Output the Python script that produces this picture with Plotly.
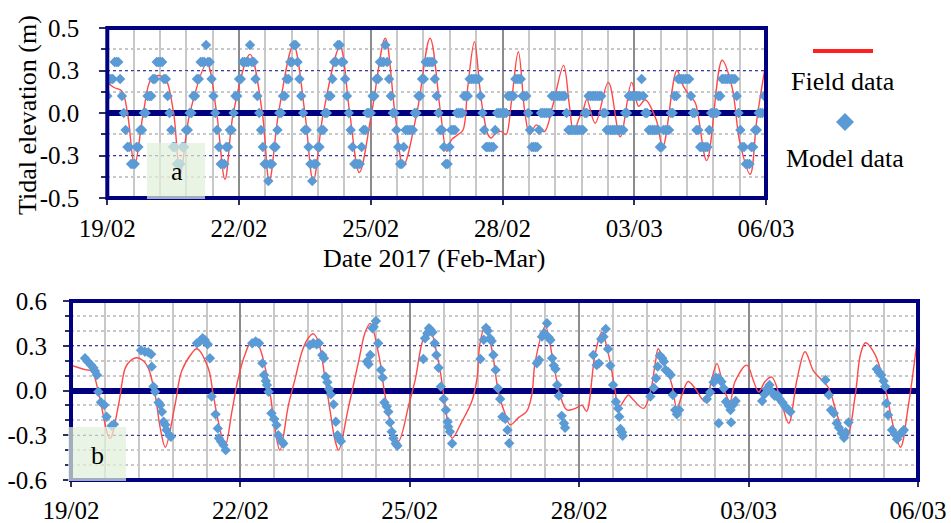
import plotly.graph_objects as go
import pandas as pd

W, H = 951, 523
START = pd.Timestamp("2017-02-19")

# ---------------- DATA ----------------
# Panel a: field data (red line), time in days since 19/02 00:00, elevation (m)
field_a_days = [0.00, 0.15, 0.33, 0.46, 0.62, 0.82, 1.00, 1.20, 1.33, 1.51, 1.66, 1.88,
                2.27, 2.49, 2.68, 2.87, 3.25, 3.53, 3.69, 3.90, 4.24, 4.50, 4.69, 4.92,
                5.30, 5.52, 5.74, 6.02, 6.33, 6.55, 6.74, 7.05, 7.35, 7.59, 7.73, 7.84,
                7.99, 8.10, 8.21, 8.36, 8.48, 8.56, 8.67, 8.74, 8.85, 8.97, 9.08, 9.20,
                9.36, 9.51, 9.62, 9.77, 9.95, 10.15, 10.39, 10.52, 10.62, 10.73, 10.85,
                10.92, 11.11, 11.41, 11.68, 11.94, 12.10, 12.25, 12.50, 12.65, 12.97,
                13.12, 13.27, 13.39, 13.65, 14.00, 14.22, 14.41, 14.64, 14.79, 15.00]
field_a_m = [0.18, 0.15, 0.13, 0.0, -0.31, 0.0, 0.20, 0.22, 0.20, 0.0, -0.36, 0.0,
             0.29, 0.0, -0.39, 0.0, 0.345, 0.0, -0.40, 0.0, 0.40, 0.0, -0.40, 0.0,
             0.39, 0.0, -0.35, 0.0, 0.44, 0.0, -0.31, 0.0, 0.44, 0.0, -0.225, -0.157,
             -0.127, -0.10, 0.157, 0.42, 0.157, 0.0, -0.127, -0.147, -0.118, -0.108, -0.127, 0.06,
             0.36, 0.0, -0.127, -0.07, -0.11, 0.05, 0.28, 0.05, -0.12, -0.04, 0.03,
             0.08, -0.06, 0.18, -0.14, 0.18, 0.04, 0.078, -0.04, -0.20, 0.25,
             0.157, 0.10, 0.06, -0.28, 0.31, 0.16, -0.18, -0.36, -0.04, 0.30]

# Panel a: model data, hourly from 19/02 00:00, in tenths of a metre
model_a_tenths = [
    1, 2, 2, 2, 3, 3, 3, 2, 1, 0, -1, -2,
    -2, -3, -3, -3, -2, -2, -1, -1, 0, 0, 1, 1,
    1, 2, 2, 3, 3, 3, 3, 2, 2, 1, 0, -1,
    -2, -2, -3, -3, -3, -2, -2, -1, -1, 0, 0, 1,
    1, 2, 2, 3, 3, 3, 4, 3, 3, 2, 1, 0,
    -1, -2, -3, -3, -3, -2, -2, -1, -1, 0, 1, 1,
    2, 2, 3, 3, 3, 3, 4, 3, 3, 2, 1, 0,
    -1, -2, -3, -3, -4, -3, -3, -2, -2, -1, 0, 0,
    1, 1, 2, 2, 3, 3, 4, 4, 3, 2, 1, 0,
    -1, -1, -2, -3, -4, -3, -3, -2, -2, -1, -1, 0,
    0, 1, 1, 2, 3, 3, 4, 4, 3, 3, 2, 1,
    0, -1, -2, -3, -3, -3, -3, -2, -1, -1, 0, 0,
    0, 1, 1, 2, 2, 3, 3, 3, 4, 3, 2, 1,
    0, 0, -1, -2, -3, -3, -2, -1, -1, -1, -1, -1,
    0, 0, 1, 1, 2, 2, 3, 3, 3, 3, 3, 2,
    1, 0, -1, -1, -2, -3, -3, -2, -1, -1, -1, 0,
    0, 0, 0, 1, 1, 1, 2, 2, 2, 2, 2, 2,
    1, 0, -1, -2, -2, -2, -2, -2, -1, 0, 0, 0,
    0, 0, 0, 1, 1, 1, 1, 2, 2, 2, 2, 1,
    1, 1, 0, -1, -2, -2, -2, -2, -1, 0, 0, 0,
    0, 0, 0, 1, 1, 1, 1, 1, 1, 1, 1, 0,
    -1, -1, -1, -1, -1, -1, -1, -1, -1, 0, 0, 1,
    1, 1, 1, 1, 1, 1, 1, 0, 0, -1, -1, -1,
    -1, -1, -1, -1, -1, -1, -1, 0, 0, 1, 1, 1,
    1, 1, 1, 1, 2, 1, 0, 0, -1, -1, -1, -1,
    -1, -1, -2, -2, -1, -1, -1, -1, 0, 0, 1, 1,
    2, 2, 2, 2, 2, 2, 2, 1, 0, 0, -1, -1,
    -2, -2, -2, -2, -2, -1, 0, 0, 0, 0, 1, 1,
    2, 2, 2, 2, 2, 2, 2, 2, 1, 0, -1, -2,
    -2, -3, -3, -3, -2, -2, -1, -1, 0, 0, 0, 1,
    1,
]

# Panel b: field data (red line)
field_b_days = [0.00, 0.25, 0.37, 0.48, 0.69, 0.84, 0.96, 1.05, 1.16, 1.28, 1.37, 1.49,
                1.58, 1.67, 1.84, 1.96, 2.14, 2.23, 2.43, 2.52, 2.61, 2.73, 2.85, 2.96,
                3.08, 3.20, 3.32, 3.44, 3.53, 3.61, 3.70, 3.85, 3.97, 4.09, 4.20, 4.29,
                4.38, 4.50, 4.59, 4.68, 4.74, 4.91, 5.09, 5.21, 5.30, 5.45, 5.56, 5.68,
                5.80, 5.98, 6.10, 6.21, 6.33, 6.51, 6.60, 6.69, 6.75, 6.92, 7.10, 7.19,
                7.24, 7.33, 7.45, 7.57, 7.69, 7.78, 7.93, 8.07, 8.16, 8.22, 8.40, 8.54,
                8.66, 8.78, 8.93, 9.05, 9.13, 9.28, 9.40, 9.52, 9.64, 9.69, 9.87, 9.93,
                10.14, 10.26, 10.35, 10.40, 10.52, 10.64, 10.73, 10.82, 10.93, 11.05,
                11.23, 11.35, 11.44, 11.56, 11.67, 11.76, 11.97, 12.09, 12.18, 12.29,
                12.41, 12.56, 12.71, 12.86, 13.00, 13.15, 13.30, 13.42, 13.59, 13.74,
                13.89, 13.98, 14.07, 14.24, 14.42, 14.57, 14.69, 14.83, 14.98]
field_b_m = [0.17, 0.14, 0.13, 0.0, -0.32, -0.10, 0.15, 0.20, 0.22, 0.20, 0.15, -0.03,
             -0.25, -0.38, -0.10, 0.13, 0.25, 0.28, 0.15, -0.03, -0.21, -0.37, -0.14, 0.08,
             0.24, 0.33, 0.30, 0.15, -0.03, -0.25, -0.40, -0.10, 0.08, 0.26, 0.35, 0.38,
             0.33, 0.08, -0.14, -0.34, -0.40, -0.12, 0.19, 0.39, 0.45, 0.24, -0.03, -0.25,
             -0.34, -0.10, 0.08, 0.31, 0.44, 0.19, -0.03, -0.25, -0.32, -0.21, -0.07, 0.08,
             0.31, 0.43, 0.28, -0.01, -0.16, -0.23, -0.18, -0.14, -0.03, 0.19, 0.43, 0.19,
             -0.03, -0.13, -0.12, -0.10, -0.14, 0.24, 0.39, 0.24, -0.01, -0.12, -0.03, -0.05,
             -0.12, -0.01, 0.19, 0.28, 0.17, 0.04, -0.12, -0.03, 0.06, 0.015,
             -0.075, 0.08, 0.18, 0.015, -0.075, 0.06, 0.17, 0.06, -0.01, 0.06,
             0.09, -0.05, -0.22, 0.08, 0.26, 0.13, 0.07, 0.015, -0.19, -0.31,
             -0.03, 0.24, 0.32, 0.24, 0.015, -0.25, -0.38, -0.10, 0.32]

# Panel b: model data
model_b_days = [0.248, 0.295, 0.354, 0.396, 0.425, 0.46, 0.484, 0.53, 0.59, 0.63, 0.72, 0.76,
                1.24, 1.31, 1.37, 1.42, 1.43, 1.46, 1.49, 1.55, 1.58, 1.61, 1.64, 1.67, 1.69, 1.74, 1.77,
                2.23, 2.29, 2.33, 2.37, 2.42, 2.46, 2.49, 2.56, 2.60, 2.62, 2.66, 2.70, 2.74,
                3.21, 3.27, 3.33, 3.39, 3.42, 3.45, 3.47, 3.50, 3.55, 3.60, 3.64, 3.67, 3.73, 3.76,
                4.23, 4.29, 4.35, 4.39, 4.45, 4.48, 4.51, 4.54, 4.57, 4.60, 4.65, 4.69, 4.72, 4.75, 4.78,
                5.24, 5.27, 5.30, 5.34, 5.36, 5.40, 5.44, 5.49, 5.52, 5.55, 5.59, 5.62, 5.65, 5.68, 5.71, 5.75, 5.78,
                6.24, 6.27, 6.31, 6.34, 6.37, 6.40, 6.44, 6.47, 6.51, 6.55, 6.60, 6.64, 6.67, 6.68, 6.71, 6.75,
                7.25, 7.31, 7.35, 7.38, 7.42, 7.45, 7.48, 7.52, 7.56, 7.60, 7.64, 7.69, 7.73, 7.76,
                8.25, 8.29, 8.34, 8.38, 8.43, 8.46, 8.49, 8.52, 8.55, 8.58, 8.61, 8.64, 8.69, 8.73, 8.75,
                9.25, 9.31, 9.35, 9.39, 9.43, 9.47, 9.51, 9.55, 9.60, 9.65, 9.69, 9.71, 9.73, 9.76, 9.77,
                10.26, 10.32, 10.36, 10.39, 10.43, 10.47, 10.50, 10.53, 10.58, 10.62, 10.66, 10.70, 10.73, 10.77,
                11.26, 11.32, 11.38, 11.42, 11.47, 11.47, 11.52, 11.56, 11.60, 11.65, 11.68, 11.69, 11.72, 11.77,
                12.24, 12.28, 12.32, 12.37, 12.41, 12.46, 12.51, 12.55, 12.60, 12.65, 12.69, 12.74,
                13.36, 13.42, 13.46, 13.51, 13.56, 13.60, 13.65, 13.69, 13.72, 13.77,
                14.27, 14.31, 14.35, 14.39, 14.42, 14.44, 14.47, 14.54, 14.59, 14.63, 14.67, 14.72, 14.75]
model_b_m = [0.216, 0.194, 0.171, 0.153, 0.131, 0.104, -0.008, -0.079, -0.097, -0.176, -0.236, -0.227,
             0.27, 0.26, 0.256, 0.243, 0.16, 0.026, -0.008, -0.08, -0.097, -0.142, -0.21, -0.23, -0.265, -0.30, -0.31,
             0.317, 0.332, 0.35, 0.339, 0.31, 0.216, -0.041, -0.16, -0.254, -0.32, -0.343, -0.366, -0.40,
             0.317, 0.328, 0.317, 0.182, 0.104, 0.064, 0.037, -0.008, -0.153, -0.191, -0.232, -0.30, -0.34, -0.355,
             0.305, 0.317, 0.31, 0.317, 0.238, 0.216, 0.093, 0.055, 0.01, -0.026, -0.093, -0.21, -0.30, -0.32, -0.34,
             0.194, 0.176, 0.238, 0.417, 0.428, 0.466, 0.317, 0.138, 0.086, -0.08, -0.108, -0.142, -0.214, -0.276, -0.32, -0.355, -0.37,
             0.211, 0.35, 0.384, 0.417, 0.406, 0.39, 0.317, 0.238, 0.153, 0.026, -0.057, -0.131, -0.209, -0.243, -0.276, -0.355,
             0.211, 0.34, 0.42, 0.40, 0.35, 0.332, 0.238, 0.138, 0.015, -0.057, -0.176, -0.19, -0.265, -0.354,
             0.182, 0.205, 0.361, 0.384, 0.451, 0.355, 0.339, 0.216, 0.167, 0.144, 0.037, -0.035, -0.17, -0.22, -0.25,
             0.238, 0.171, 0.182, 0.345, 0.361, 0.413, 0.279, 0.167, 0.037, -0.075, -0.12, -0.176, -0.258, -0.28, -0.303,
             -0.041, 0.019, 0.082, 0.16, 0.234, 0.216, 0.194, 0.138, 0.122, 0.104, -0.03, -0.131, -0.16, -0.131,
             -0.057, -0.012, 0.055, 0.086, 0.082, -0.22, 0.059, 0.015, -0.075, -0.102, -0.131, -0.214, -0.097, -0.07,
             -0.07, -0.026, 0.01, 0.037, -0.008, -0.035, -0.03, -0.057, -0.08, -0.108, -0.124, -0.142,
             0.07, -0.03, -0.131, -0.153, -0.22, -0.25, -0.287, -0.317, -0.28, -0.214,
             0.144, 0.122, 0.104, 0.064, 0.026, -0.086, -0.164, -0.265, -0.294, -0.326, -0.298, -0.278, -0.265]

ya_tickvals = [-0.5, -0.25, 0.0, 0.25, 0.5]
ya_ticktext = ["-0.5", "-0.3", "0.0", "0.3", "0.5"]
yb_tickvals = [-0.6, -0.3, 0.0, 0.3, 0.6]
yb_ticktext = ["-0.6", "-0.3", "0.0", "0.3", "0.6"]
x_range = ["2017-02-19", "2017-03-06"]

# ---------------- HELPERS ----------------
def to_dt(days):
    return [START + pd.Timedelta(days=d) for d in days]

def px(x):
    return x / W

def py(y):
    return 1 - y / H

NAVY = "#000080"
RED = "#ff4848"
BLUE = "#5b9bd5"
FONT = "Liberation Serif"

model_a_dt = [START + pd.Timedelta(hours=h) for h in range(len(model_a_tenths))]
model_a_m = [v / 10 for v in model_a_tenths]

fig = go.Figure()
fig.add_trace(go.Scatter(x=to_dt(field_a_days), y=field_a_m, mode="lines",
                         line=dict(color=RED, width=1.4, shape="spline", smoothing=1.0),
                         xaxis="x", yaxis="y", showlegend=False))
fig.add_trace(go.Scatter(x=model_a_dt, y=model_a_m, mode="markers",
                         marker=dict(symbol="diamond", size=8, color=BLUE, line=dict(width=0)),
                         xaxis="x", yaxis="y", showlegend=False))
fig.add_trace(go.Scatter(x=to_dt(field_b_days), y=field_b_m, mode="lines",
                         line=dict(color=RED, width=1.4, shape="spline", smoothing=1.0),
                         xaxis="x2", yaxis="y2", showlegend=False))
fig.add_trace(go.Scatter(x=to_dt(model_b_days), y=model_b_m, mode="markers",
                         marker=dict(symbol="diamond", size=8, color=BLUE, line=dict(width=0)),
                         xaxis="x2", yaxis="y2", showlegend=False))

tickfont = dict(family=FONT, size=25, color="black")
day_ms = 86400000

def xaxis_cfg(domain, anchor):
    return dict(domain=domain, anchor=anchor, type="date", range=x_range,
                tick0="2017-02-19", dtick=3 * day_ms, tickformat="%d/%m",
                showgrid=True, gridcolor="#8c8c8c", gridwidth=1.5,
                ticks="outside", ticklen=6, tickwidth=1.5, tickcolor="#303060",
                ticklabelstandoff=2, tickfont=tickfont, automargin=False,
                minor=dict(tick0="2017-02-19", dtick=0.6 * day_ms, showgrid=True,
                           gridcolor="#c8c8c8", gridwidth=1.8, ticks=""),
                showline=False, zeroline=False, fixedrange=True)

def yaxis_cfg(domain, anchor, rng, tv, tt, minor_dt, standoff):
    return dict(domain=domain, anchor=anchor, range=rng, tickmode="array",
                tickvals=tv, ticktext=tt, tickfont=tickfont, automargin=False,
                showgrid=True, gridcolor="#3b3bb0", gridwidth=1.3, griddash="dot",
                ticks="outside", ticklen=7, tickwidth=1.5, tickcolor="#303060",
                ticklabelstandoff=standoff,
                minor=dict(tickmode="linear", tick0=0, dtick=minor_dt, showgrid=True,
                           gridcolor="#c8c8c8", gridwidth=1.8, ticks="outside",
                           ticklen=5, tickcolor="#303060"),
                zeroline=True, zerolinecolor=NAVY, zerolinewidth=6,
                showline=False, fixedrange=True)

xa_dom = [px(107.3), px(766)]
ya_dom = [py(198), py(28)]
xb_dom = [px(71), px(918)]
yb_dom = [py(480), py(301)]

shapes = [
    dict(type="rect", xref="paper", yref="paper", x0=xa_dom[0], x1=xa_dom[1],
         y0=ya_dom[0], y1=ya_dom[1], line=dict(color=NAVY, width=4), layer="above"),
    dict(type="rect", xref="paper", yref="paper", x0=xb_dom[0], x1=xb_dom[1],
         y0=yb_dom[0], y1=yb_dom[1], line=dict(color=NAVY, width=4), layer="above"),
    # label boxes
    dict(type="rect", xref="paper", yref="paper", x0=px(147), x1=px(205), y0=py(199), y1=py(143),
         fillcolor="rgba(226,240,217,0.72)", line=dict(width=0), layer="above"),
    dict(type="rect", xref="paper", yref="paper", x0=px(68), x1=px(126), y0=py(481), y1=py(427),
         fillcolor="rgba(226,240,217,0.72)", line=dict(width=0), layer="above"),
    # legend line
    dict(type="line", xref="paper", yref="paper", x0=px(813), x1=px(873), y0=py(51), y1=py(51),
         line=dict(color="#ff2020", width=4), layer="above"),
    # legend diamond
    dict(type="path", xref="paper", yref="paper",
         path=f"M {px(845)},{py(113)} L {px(854)},{py(122)} L {px(845)},{py(131)} L {px(836)},{py(122)} Z",
         fillcolor=BLUE, line=dict(width=0), layer="above"),
]

def ann(text, x, y, size=26, angle=0):
    return dict(text=text, x=px(x), y=py(y), xref="paper", yref="paper", showarrow=False,
                xanchor="center", yanchor="middle", textangle=angle,
                font=dict(family=FONT, size=size, color="black"))

annotations = [
    ann("Tidal elevation (m)", 27, 115, 26, -90),
    ann("Date 2017 (Feb-Mar)", 434, 258, 26),
    ann("Field data", 843, 82, 26),
    ann("Model data", 845, 158, 26),
    ann("a", 176.5, 171, 26),
    ann("b", 97, 455, 26),
]

fig.update_layout(
    template="none",
    width=W, height=H, margin=dict(l=0, r=0, t=0, b=0, autoexpand=False),
    paper_bgcolor="white", plot_bgcolor="white",
    xaxis=xaxis_cfg(xa_dom, "y"),
    yaxis=yaxis_cfg(ya_dom, "x", [-0.5, 0.5], ya_tickvals, ya_ticktext, 0.125, 15),
    xaxis2=xaxis_cfg(xb_dom, "y2"),
    yaxis2=yaxis_cfg(yb_dom, "x2", [-0.6, 0.6], yb_tickvals, yb_ticktext, 0.1, 11),
    shapes=shapes, annotations=annotations, showlegend=False,
)

fig.write_html("out.html")
